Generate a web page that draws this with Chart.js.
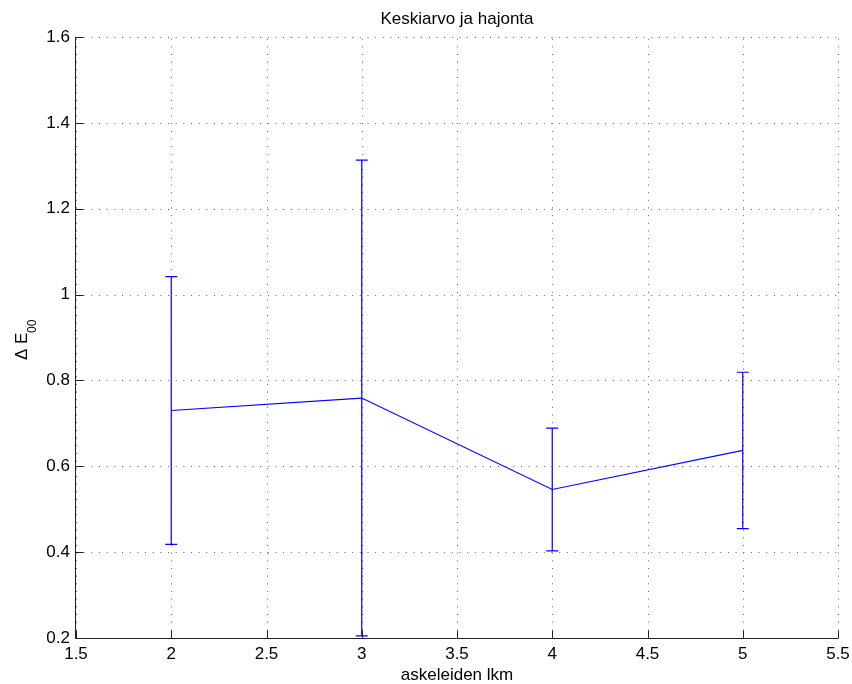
<!DOCTYPE html>
<html>
<head>
<meta charset="utf-8">
<script src="https://cdn.jsdelivr.net/npm/chart.js@4"></script>
<style>
  html, body { margin: 0; padding: 0; background: #fff; }
  canvas { display: block; }
</style>
</head>
<body>
<canvas id="c" width="852" height="684"></canvas>
<script>
// ---- data ----
const steps = [2, 3, 4, 5];
const means = [0.730, 0.759, 0.546, 0.637];
const stds  = [0.312, 0.554, 0.143, 0.182];
const xTicks = [1.5, 2, 2.5, 3, 3.5, 4, 4.5, 5, 5.5];
const yTicks = [0.2, 0.4, 0.6, 0.8, 1, 1.2, 1.4, 1.6];
const titleText = 'Keskiarvo ja hajonta';
const xLabelText = 'askeleiden lkm';
const yLabelMain = 'Δ E';
const yLabelSub = '00';

const FONT = '"Liberation Sans", Arial, Helvetica, sans-serif';
const LINE_COLOR = '#0000ff';

const gridPlugin = {
  id: 'matlabGrid',
  beforeDatasetsDraw(chart) {
    const { ctx, chartArea: a, scales: { x, y } } = chart;
    ctx.save();
    ctx.strokeStyle = '#666';
    ctx.lineWidth = 1;
    ctx.setLineDash([1, 6.67]);
    xTicks.forEach(v => {
      const px = Math.round(x.getPixelForValue(v)) + 0.5;
      ctx.beginPath();
      ctx.moveTo(px, a.bottom);
      ctx.lineTo(px, a.top);
      ctx.stroke();
    });
    yTicks.forEach(v => {
      const py = Math.round(y.getPixelForValue(v)) + 0.5;
      ctx.beginPath();
      ctx.moveTo(a.left, py);
      ctx.lineTo(a.right, py);
      ctx.stroke();
    });
    ctx.restore();
  },
  afterDatasetsDraw(chart) {
    const { ctx, chartArea: a, scales: { x, y } } = chart;
    ctx.save();
    // error bars
    ctx.strokeStyle = LINE_COLOR;
    ctx.lineWidth = 1.2;
    ctx.setLineDash([]);
    steps.forEach((s, i) => {
      const px = x.getPixelForValue(s);
      const top = y.getPixelForValue(means[i] + stds[i]);
      const bot = y.getPixelForValue(means[i] - stds[i]);
      ctx.beginPath();
      ctx.moveTo(px, top);
      ctx.lineTo(px, bot);
      ctx.moveTo(px - 6, top);
      ctx.lineTo(px + 6, top);
      ctx.moveTo(px - 6, bot);
      ctx.lineTo(px + 6, bot);
      ctx.stroke();
    });
    // axes (left and bottom only)
    ctx.strokeStyle = '#222';
    ctx.lineWidth = 1;
    const lx = Math.round(a.left) - 0.5;
    const by = Math.round(a.bottom) + 0.5;
    ctx.beginPath();
    ctx.moveTo(lx, a.top);
    ctx.lineTo(lx, by);
    ctx.lineTo(a.right, by);
    ctx.stroke();
    // inward ticks
    ctx.beginPath();
    xTicks.forEach(v => {
      const px = Math.round(x.getPixelForValue(v)) + 0.5;
      ctx.moveTo(px, by);
      ctx.lineTo(px, by - 8);
    });
    yTicks.forEach(v => {
      const py = Math.round(y.getPixelForValue(v)) + 0.5;
      ctx.moveTo(lx, py);
      ctx.lineTo(lx + 8, py);
    });
    ctx.stroke();
    // texts
    ctx.fillStyle = '#000';
    ctx.font = '17px ' + FONT;
    ctx.textAlign = 'center';
    ctx.textBaseline = 'alphabetic';
    const cx = (a.left + a.right) / 2;
    ctx.fillText(titleText, cx, 24);
    ctx.fillText(xLabelText, cx, 680);
    // y label, rotated
    ctx.translate(27, 339);
    ctx.rotate(-Math.PI / 2);
    ctx.textAlign = 'left';
    ctx.font = '17px ' + FONT;
    ctx.fillText(yLabelMain, -21, 0);
    ctx.font = '12px ' + FONT;
    ctx.fillText(yLabelSub, 6, 9);
    ctx.restore();
  }
};

new Chart(document.getElementById('c'), {
  type: 'scatter',
  data: {
    datasets: [{
      data: steps.map((s, i) => ({ x: s, y: means[i] })),
      showLine: true,
      borderColor: LINE_COLOR,
      backgroundColor: LINE_COLOR,
      borderWidth: 1.2,
      pointRadius: 0,
      fill: false,
      tension: 0
    }]
  },
  options: {
    responsive: false,
    animation: false,
    events: [],
    layout: { padding: { top: 37, right: 14, left: 0, bottom: 0 } },
    plugins: { legend: { display: false }, tooltip: { enabled: false }, title: { display: false } },
    scales: {
      x: {
        type: 'linear',
        min: 1.5, max: 5.5,
        afterBuildTicks: s => { s.ticks = xTicks.map(v => ({ value: v })); },
        afterFit: s => { s.height = 46; s.paddingLeft = 0; s.paddingRight = 0; },
        ticks: { callback: v => String(v), font: { family: FONT, size: 17 }, color: '#000', padding: 6, maxRotation: 0, autoSkip: false },
        grid: { display: false, drawTicks: false, tickLength: 0 },
        border: { display: false }
      },
      y: {
        type: 'linear',
        min: 0.2, max: 1.6,
        afterBuildTicks: s => { s.ticks = yTicks.map(v => ({ value: v })); },
        afterFit: s => { s.width = 76; s.paddingTop = 0; s.paddingBottom = 0; },
        ticks: { callback: v => String(v), font: { family: FONT, size: 17 }, color: '#000', padding: 6, autoSkip: false },
        grid: { display: false, drawTicks: false, tickLength: 0 },
        border: { display: false }
      }
    }
  },
  plugins: [gridPlugin]
});
</script>
</body>
</html>
